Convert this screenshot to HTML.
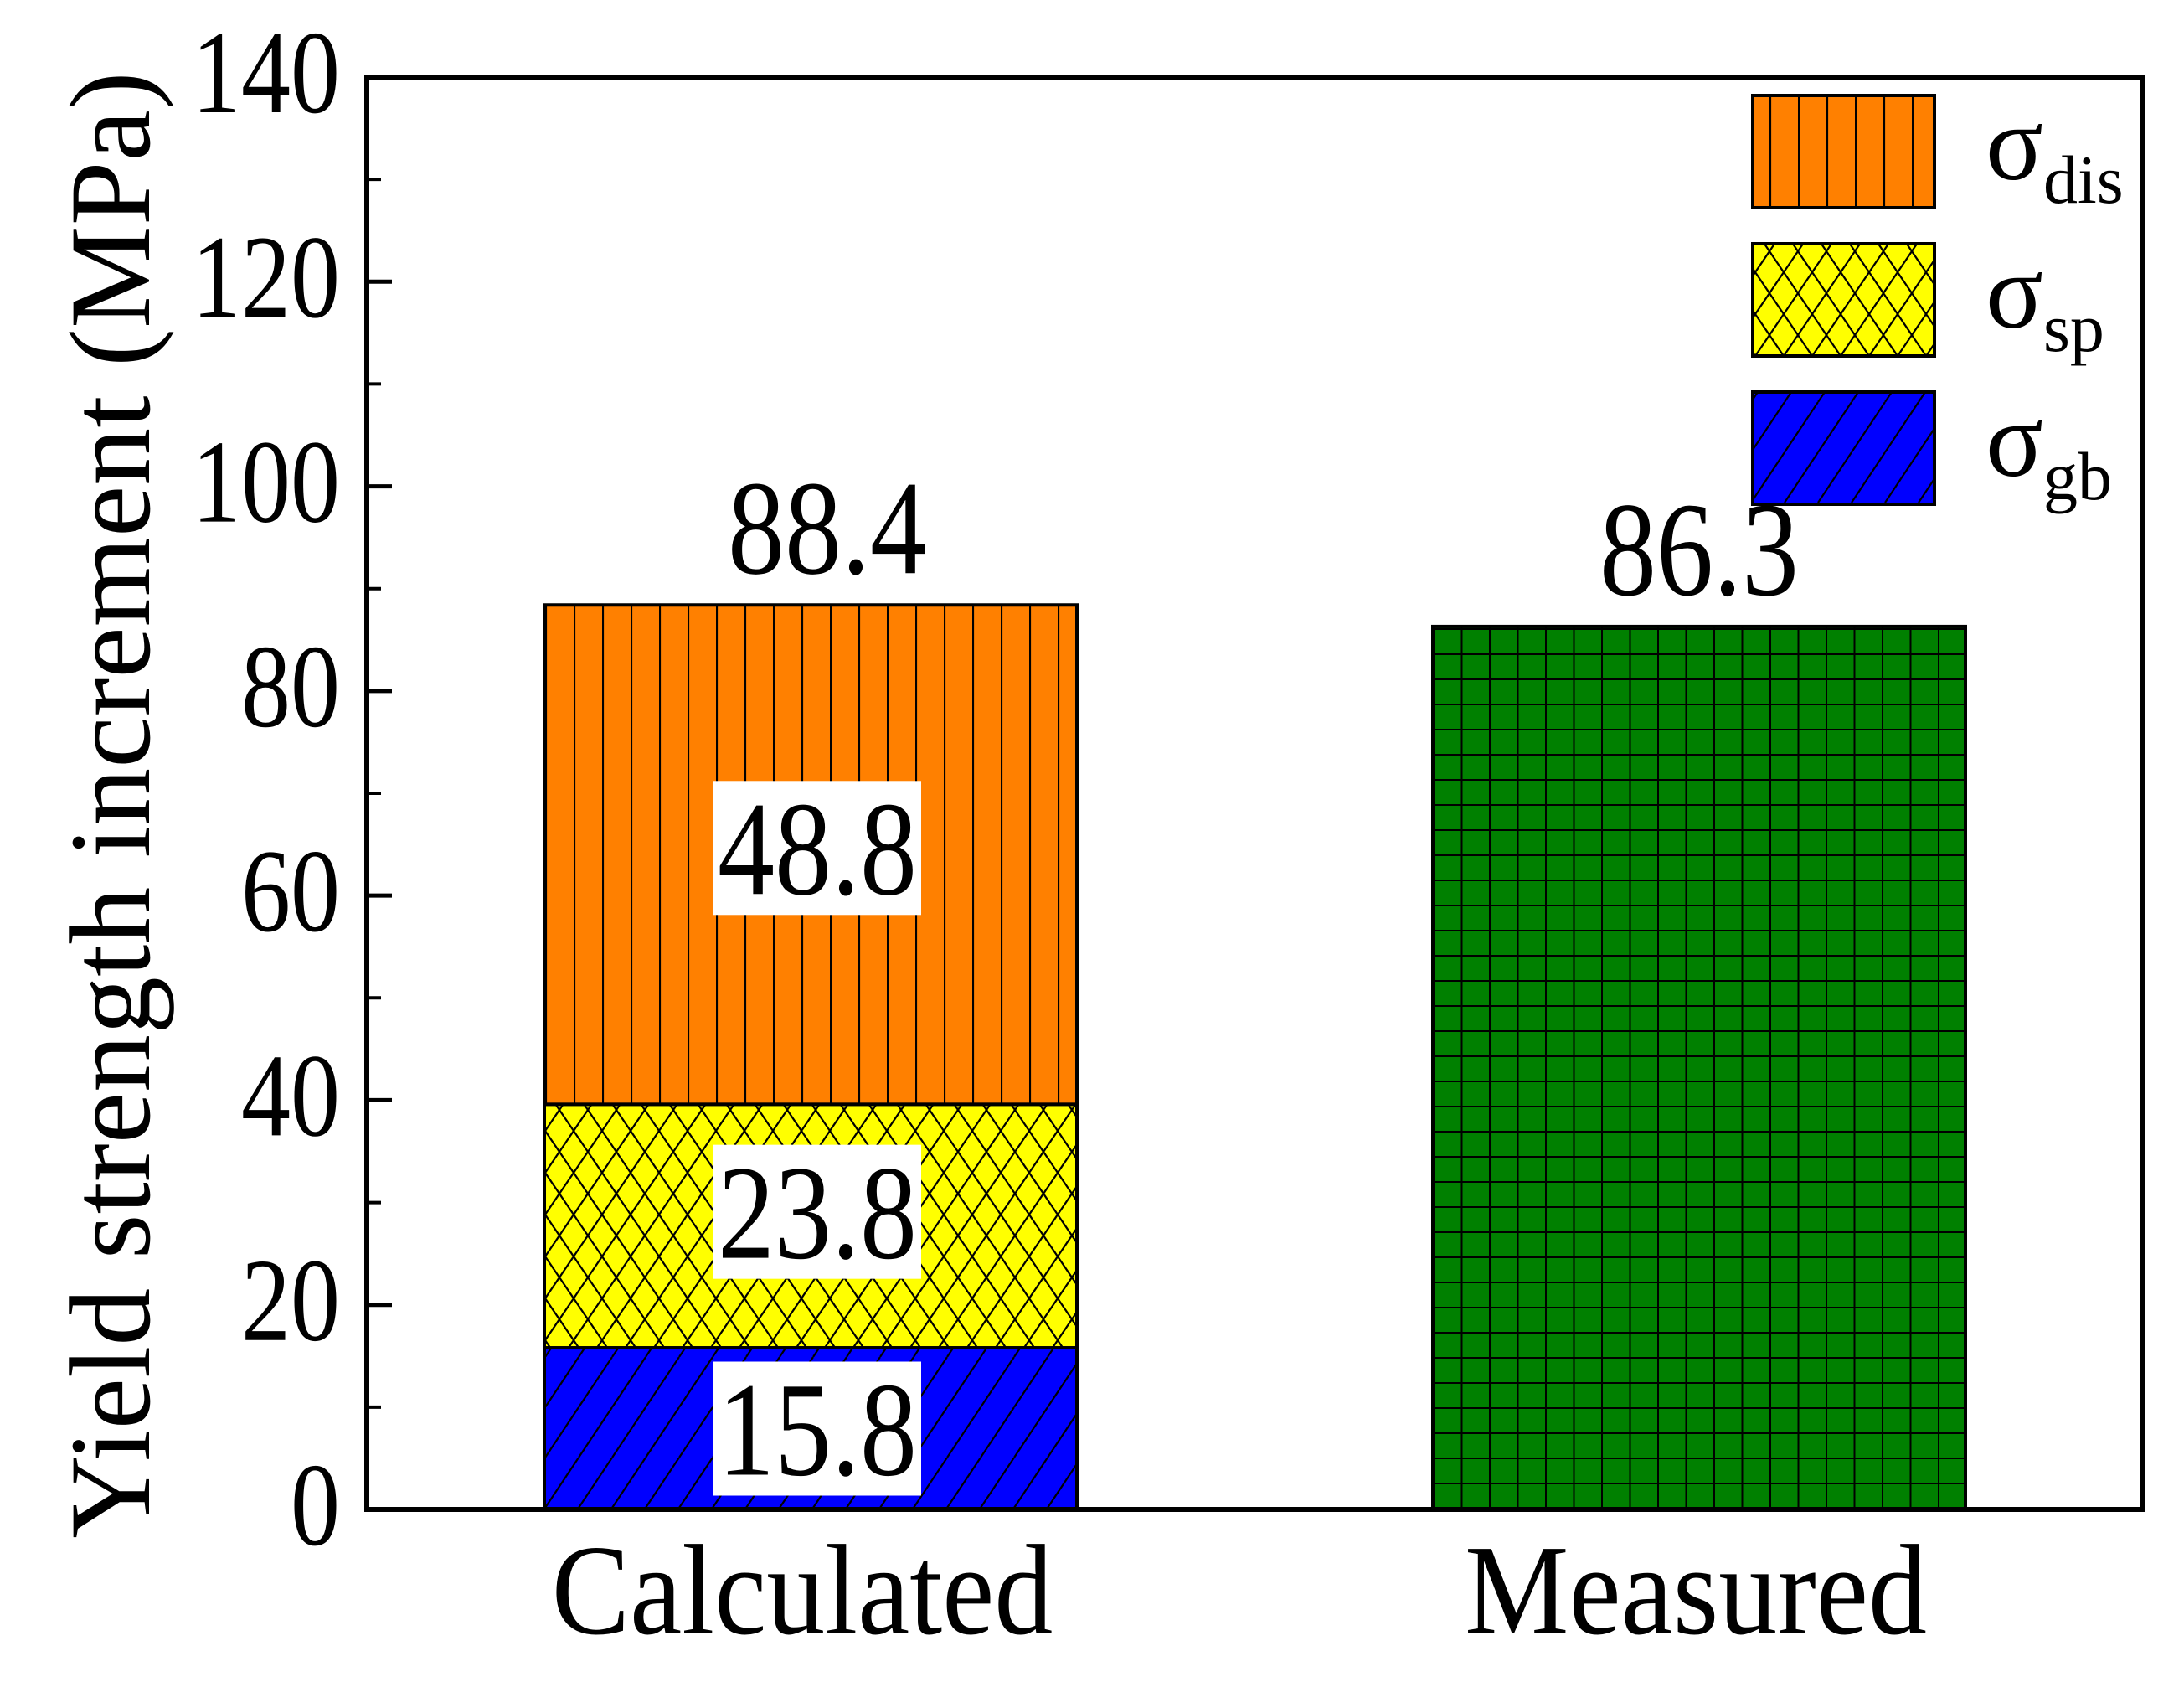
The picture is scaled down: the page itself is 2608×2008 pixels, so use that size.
<!DOCTYPE html>
<html><head><meta charset="utf-8"><style>
html,body{margin:0;padding:0;background:#fff;}
svg{display:block;font-family:"Liberation Serif",serif;}
</style></head><body>
<svg id="chart" width="2608" height="2008" viewBox="0 0 2608 2008" xmlns="http://www.w3.org/2000/svg">
<defs>
<pattern id="p-dis" patternUnits="userSpaceOnUse" width="34" height="34" x="651"><rect width="34" height="34" fill="#FF8000"/><line x1="1" y1="0" x2="1" y2="34" stroke="#000" stroke-width="2.2"/></pattern>
<pattern id="p-sp" patternUnits="userSpaceOnUse" width="34" height="50" x="651"><rect width="34" height="50" fill="#FFFF00"/><path d="M0,0 L34,50 M34,0 L0,50" stroke="#000" stroke-width="2.2"/></pattern>
<pattern id="p-gb" patternUnits="userSpaceOnUse" width="40" height="60" x="651"><rect width="40" height="60" fill="#0000FF"/><path d="M-40,60 L0,0 M0,60 L40,0 M40,60 L80,0" stroke="#000" stroke-width="2.2"/></pattern>
<pattern id="p-meas" patternUnits="userSpaceOnUse" width="33.5" height="30" x="1711" y="0"><rect width="33.5" height="30" fill="#008000"/><path d="M1,0 V30 M0,1 H33.5" stroke="#000" stroke-width="2"/></pattern>
</defs>
<g id="plot"></g>
</svg>
<script>
const categories = ["Calculated", "Measured"];
const gbValues = [15.8, 0];
const spValues = [23.8, 0];
const disValues = [48.8, 0];
const measuredValues = [0, 86.3];
const totalLabels = ["88.4", "86.3"];
const yTicks = [0, 20, 40, 60, 80, 100, 120, 140];
const yMinorTicks = [10, 30, 50, 70, 90, 110, 130];

const NS = "http://www.w3.org/2000/svg";
const L = 438, R = 2559, T = 92, B = 1802, YMAX = 140;
const y = v => B - v / YMAX * (B - T);
const barCenters = [968, 2029];
const barW = 636;
const x = i => barCenters[i];
const g = document.getElementById('plot');
function mk(tag, attrs, text){
  const e = document.createElementNS(NS, tag);
  for (const k in attrs) e.setAttribute(k, attrs[k]);
  if (text !== undefined) e.textContent = text;
  g.appendChild(e);
  return e;
}
function stretchedText(tx, ty, sy, attrs, text){
  return mk('text', Object.assign({x: 0, y: 0, transform: 'translate(' + tx + ',' + ty + ') scale(1,' + sy + ')'}, attrs), text);
}
const labelShift = {gb: 0, sp: -17, dis: -8};
categories.forEach((c, i) => {
  const segs = [[gbValues[i], 'url(#p-gb)', 'gb'], [spValues[i], 'url(#p-sp)', 'sp'], [disValues[i], 'url(#p-dis)', 'dis'], [measuredValues[i], 'url(#p-meas)', 'measured']];
  let base = 0;
  segs.forEach(s => {
    if (s[0] <= 0) return;
    const r = mk('rect', {x: x(i) - barW/2, y: y(base + s[0]), width: barW, height: y(base) - y(base + s[0]), fill: s[1], stroke: '#000', 'stroke-width': 4});
    
    
    if (i === 0) {
      const mid = (y(base) + y(base + s[0])) / 2 + (labelShift[s[2]] || 0);
      const lw = 248, lh = 160;
      const bx = mk('rect', {x: x(i) - lw/2 + 8, y: mid - lh/2, width: lw, height: lh, fill: '#fff'});
      
      
      const t = stretchedText(x(i) + 8, mid + 55, 1.18, {'text-anchor': 'middle', 'font-size': 136}, s[0].toFixed(1));
      
      
    }
    base += s[0];
  });
  const tl = stretchedText(x(i) + (i === 0 ? 20 : 0), y(base) - 38, 1.18, {'text-anchor': 'middle', 'font-size': 136}, totalLabels[i]);
  
  
  const cl = stretchedText(x(i) + (i === 0 ? -10 : -4), 1950, 1.1, {'text-anchor': 'middle', 'font-size': 140}, c);
  
  
});
const fr = mk('rect', {x: L, y: T, width: R - L, height: B - T, fill: 'none', stroke: '#000', 'stroke-width': 6});


yTicks.forEach(v => {
  const tk = mk('line', {x1: L, x2: L + 30, y1: y(v), y2: y(v), stroke: '#000', 'stroke-width': 5});
  
  
  const lb = stretchedText(406, y(v) + 42, 1.2, {'text-anchor': 'end', 'font-size': 118}, String(v));
  
  
});
yMinorTicks.forEach(v => {
  const tk = mk('line', {x1: L, x2: L + 17, y1: y(v), y2: y(v), stroke: '#000', 'stroke-width': 4});
  
  
});
const yt = mk('text', {x: 0, y: 0, transform: 'translate(178,961) rotate(-90)', 'text-anchor': 'middle', 'font-size': 138}, 'Yield strength increment (MPa)');


const legend = [['url(#p-dis)', 'dis'], ['url(#p-sp)', 'sp'], ['url(#p-gb)', 'gb']];
legend.forEach((l, k) => {
  const top = 114 + k * 177;
  const r = mk('rect', {x: 2093, y: top, width: 217, height: 134, fill: l[0], stroke: '#000', 'stroke-width': 4});
  
  
  const t = mk('text', {x: 2371, y: top + 100, 'font-size': 128}, 'σ');
  
  
  const ts = document.createElementNS(NS, 'tspan');
  ts.setAttribute('font-size', '82');
  ts.setAttribute('dy', '28');
  ts.textContent = l[1];
  t.appendChild(ts);
});
</script>
</body></html>
